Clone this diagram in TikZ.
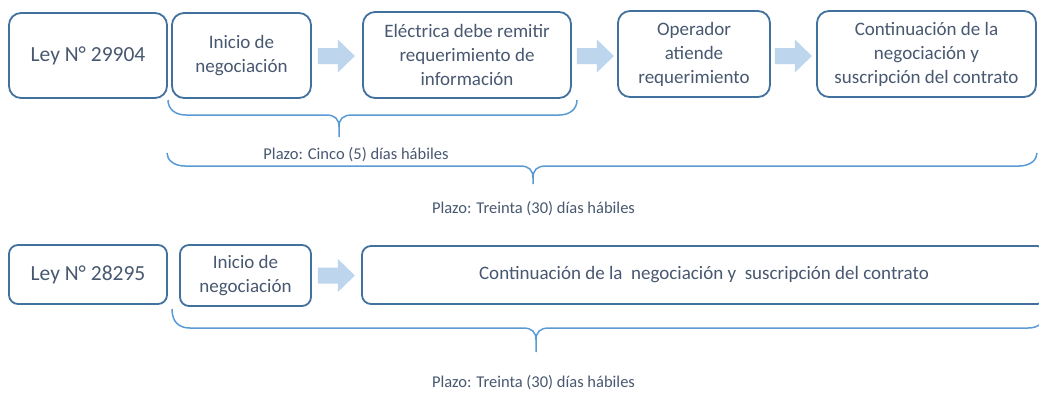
\documentclass[tikz,border=0pt]{standalone}
\usepackage{fontspec}
\setmainfont{Carlito}
\usetikzlibrary{calc}
\definecolor{boxline}{RGB}{65,113,156}
\definecolor{txt}{RGB}{72,88,112}
\definecolor{brc}{RGB}{91,155,213}
\definecolor{arr}{RGB}{189,214,238}
\tikzset{
  box/.style={draw=boxline, line width=1.8pt, rounded corners=12pt, align=center,
    text=txt, font=\fontsize{19}{24}\selectfont, inner sep=0pt},
  sbox/.style={box, rounded corners=9pt},
  leyfont/.style={font=\fontsize{21.5}{26}\selectfont},
  plazo/.style={text=txt, font=\fontsize{16.5}{20}\selectfont, inner sep=0pt},
  bracestyle/.style={draw=brc, line width=1.5pt},
  blockarrow/.pic={\fill[arr] (0,-8) -- (20,-8) -- (20,-16.5) -- (37,0) -- (20,16.5) -- (20,8) -- (0,8) -- cycle;}
}
% #1 left x, #2 top y, #3 right x, #4 line y, #5 tip x, #6 tip y
\newcommand\officebrace[6]{%
  \draw[bracestyle] (#1,#2) .. controls (#1,{#4-6}) and ({#1+7},#4) .. ({#1+18},#4)
    -- ({#5-13},#4) .. controls ({#5-4},#4) and (#5,{#4+4}) .. (#5,{#4+12}) -- (#5,#6)
    -- (#5,{#4+12}) .. controls (#5,{#4+4}) and ({#5+4},#4) .. ({#5+13},#4)
    -- ({#3-18},#4) .. controls ({#3-7},#4) and (#3,{#4-6}) .. (#3,#2);}
\begin{document}
\begin{tikzpicture}[x=1pt,y=-1pt]
\useasboundingbox (0,0) rectangle (1039,392);
\clip (0,0) rectangle (1039,392);
\fill[white] (0,0) rectangle (1039,392);
% top row
\node[box, leyfont, minimum width=158, minimum height=85] (ley1) at (88,55.5) {Ley N° 29904};
\node[box, minimum width=139, minimum height=85] (ini1) at (241.5,55.5) {Inicio de\\negociación};
\node[box, minimum width=208, minimum height=86] (ele) at (467,55) {Eléctrica debe remitir\\requerimiento de\\información};
\node[box, minimum width=152, minimum height=86] (ope) at (694,54) {Operador\\atiende\\requerimiento};
\node[box, minimum width=219, minimum height=86] (con1) at (926.5,54) {Continuación de la\\negociación y\\suscripción del contrato};
\pic at ($(ini1.east)+(6,0.5)$) {blockarrow};
\pic at ($(ele.east)+(5,1)$) {blockarrow};
\pic at ($(ope.east)+(4,2)$) {blockarrow};
% top braces
\officebrace{168}{100}{577}{115}{339}{137}
\officebrace{167}{153}{1037}{166}{533}{184}
\node[plazo] (p1) at (356,155) {Plazo: Cinco (5) días hábiles};
\node[plazo] (p2) at (533.5,209) {Plazo: Treinta (30) días hábiles};
% bottom row
\node[sbox, leyfont, minimum width=158, minimum height=59] (ley2) at (88,274.5) {Ley N° 28295};
\node[sbox, minimum width=131, minimum height=61] (ini2) at (245.5,275.5) {Inicio de\\negociación};
\node[sbox, minimum width=684, minimum height=58] (con2) at (704,275) {Continuación de la~~negociación y~~suscripción del contrato};
\pic at ($(ini2.east)+(6,0)$) {blockarrow};
\officebrace{172}{309}{1046}{328}{536}{352}
\node[plazo] (p3) at (533.5,383) {Plazo: Treinta (30) días hábiles};
\end{tikzpicture}
\end{document}
